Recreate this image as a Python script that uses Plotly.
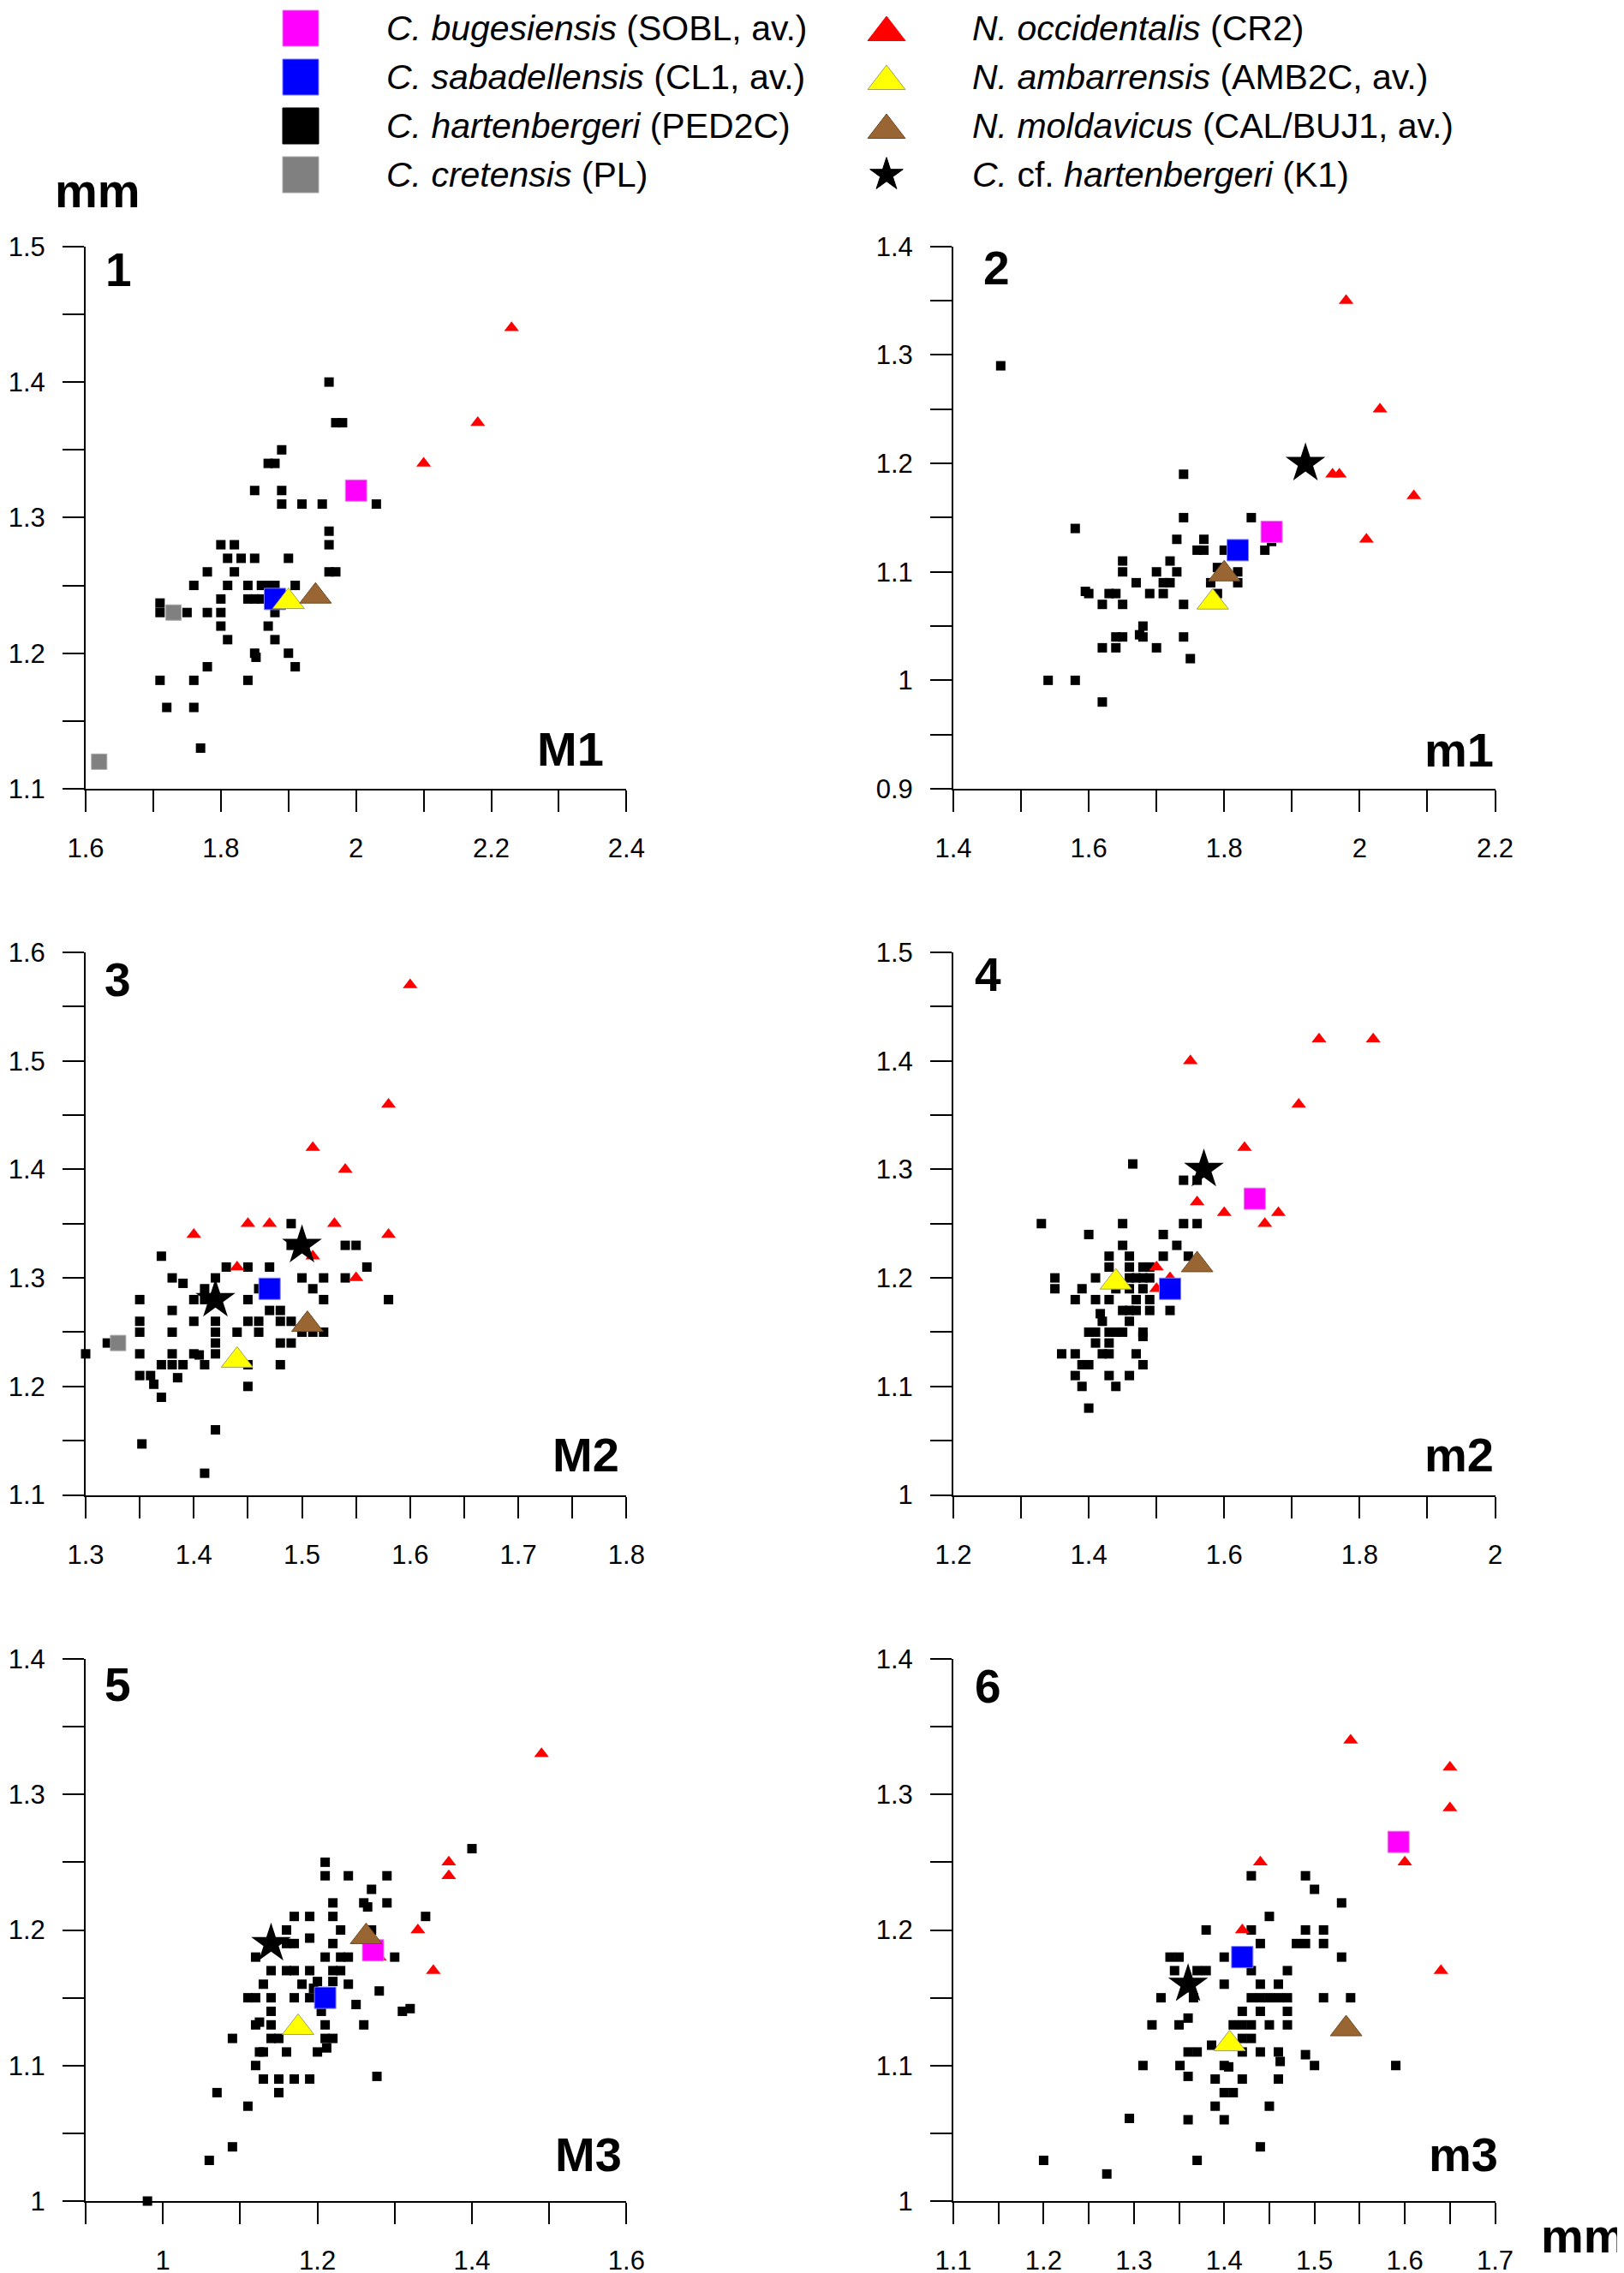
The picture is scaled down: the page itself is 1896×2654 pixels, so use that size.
import numpy as np
import plotly.graph_objects as go

# panels: tooth position and panel number
PANEL_NAMES = ["M1", "m1", "M2", "m2", "M3", "m3"]
PANEL_NUMBERS = ["1", "2", "3", "4", "5", "6"]

X_RANGES = [[1.6, 2.4], [1.4, 2.2], [1.3, 1.8], [1.2, 2.0], [0.9, 1.6], [1.1, 1.7]]
Y_RANGES = [[1.1, 1.5], [0.9, 1.4], [1.1, 1.6], [1.0, 1.5], [1.0, 1.4], [1.0, 1.4]]
X_TICK_STEP = [0.1, 0.1, 0.05, 0.1, 0.1, 0.05]
X_LABEL_STEP = [0.2, 0.2, 0.1, 0.2, 0.2, 0.1]

# C. hartenbergeri (PED2C), single teeth (length, width) in mm
ped2c_M1 = [(1.96, 1.40), (1.97, 1.37), (1.98, 1.37), (1.89, 1.35), (1.87, 1.34), (1.88, 1.34),
            (1.85, 1.32), (1.89, 1.32), (1.89, 1.31), (1.92, 1.31), (1.95, 1.31), (2.03, 1.31),
            (1.96, 1.29), (1.96, 1.28), (1.96, 1.26), (1.97, 1.26), (1.80, 1.28), (1.82, 1.28),
            (1.81, 1.27), (1.83, 1.27), (1.85, 1.27), (1.90, 1.27), (1.78, 1.26), (1.82, 1.26),
            (1.76, 1.25), (1.81, 1.25), (1.84, 1.25), (1.86, 1.25), (1.87, 1.25), (1.88, 1.25),
            (1.91, 1.25), (1.80, 1.24), (1.84, 1.24), (1.85, 1.24), (1.86, 1.24), (1.71, 1.237),
            (1.71, 1.23), (1.75, 1.23), (1.78, 1.23), (1.80, 1.23), (1.88, 1.23), (1.80, 1.22),
            (1.87, 1.22), (1.81, 1.21), (1.88, 1.21), (1.85, 1.20), (1.852, 1.197), (1.90, 1.20),
            (1.91, 1.19), (1.78, 1.19), (1.71, 1.18), (1.76, 1.18), (1.84, 1.18), (1.72, 1.16),
            (1.76, 1.16), (1.77, 1.13)]
ped2c_m1 = [(1.47, 1.29), (1.58, 1.14), (1.74, 1.19), (1.74, 1.15), (1.84, 1.15), (1.73, 1.13),
            (1.77, 1.13), (1.76, 1.12), (1.77, 1.12), (1.80, 1.12), (1.86, 1.12), (1.87, 1.128),
            (1.65, 1.11), (1.72, 1.11), (1.65, 1.10), (1.70, 1.10), (1.73, 1.10), (1.79, 1.104),
            (1.82, 1.10), (1.67, 1.09), (1.71, 1.09), (1.72, 1.09), (1.78, 1.09), (1.82, 1.09),
            (1.595, 1.082), (1.60, 1.08), (1.63, 1.08), (1.64, 1.08), (1.69, 1.08), (1.71, 1.08),
            (1.79, 1.08), (1.62, 1.07), (1.65, 1.07), (1.74, 1.07), (1.68, 1.05), (1.68, 1.04),
            (1.675, 1.042), (1.64, 1.04), (1.65, 1.04), (1.74, 1.04), (1.62, 1.03), (1.64, 1.03),
            (1.70, 1.03), (1.75, 1.02), (1.54, 1.00), (1.58, 1.00), (1.62, 0.98)]
ped2c_M2 = [(1.49, 1.35), (1.54, 1.33), (1.55, 1.33), (1.49, 1.33), (1.37, 1.32), (1.43, 1.31),
            (1.45, 1.31), (1.47, 1.31), (1.56, 1.31), (1.38, 1.30), (1.42, 1.30), (1.50, 1.30),
            (1.52, 1.30), (1.54, 1.30), (1.39, 1.295), (1.41, 1.29), (1.46, 1.29), (1.51, 1.29),
            (1.35, 1.28), (1.40, 1.28), (1.41, 1.28), (1.45, 1.28), (1.52, 1.28), (1.58, 1.28),
            (1.38, 1.27), (1.47, 1.27), (1.48, 1.27), (1.35, 1.26), (1.40, 1.26), (1.42, 1.26),
            (1.45, 1.26), (1.46, 1.26), (1.48, 1.26), (1.49, 1.26), (1.35, 1.25), (1.38, 1.25),
            (1.42, 1.25), (1.44, 1.25), (1.46, 1.25), (1.50, 1.25), (1.51, 1.25), (1.52, 1.25),
            (1.32, 1.24), (1.42, 1.24), (1.48, 1.24), (1.49, 1.24), (1.30, 1.23), (1.35, 1.23),
            (1.38, 1.23), (1.40, 1.23), (1.405, 1.229), (1.42, 1.23), (1.37, 1.22), (1.38, 1.22),
            (1.39, 1.22), (1.41, 1.22), (1.45, 1.22), (1.48, 1.22), (1.35, 1.21), (1.36, 1.21),
            (1.385, 1.208), (1.363, 1.202), (1.45, 1.20), (1.37, 1.19), (1.42, 1.16),
            (1.352, 1.147), (1.41, 1.12)]
ped2c_m2 = [(1.465, 1.305), (1.54, 1.29), (1.56, 1.29), (1.33, 1.25), (1.45, 1.25), (1.54, 1.25),
            (1.56, 1.25), (1.40, 1.24), (1.51, 1.24), (1.45, 1.23), (1.53, 1.23), (1.43, 1.22),
            (1.46, 1.22), (1.51, 1.22), (1.547, 1.22), (1.43, 1.21), (1.46, 1.21), (1.48, 1.21),
            (1.49, 1.21), (1.35, 1.20), (1.41, 1.20), (1.46, 1.20), (1.47, 1.20), (1.48, 1.20),
            (1.49, 1.20), (1.35, 1.19), (1.39, 1.19), (1.44, 1.19), (1.46, 1.19), (1.48, 1.19),
            (1.38, 1.18), (1.41, 1.18), (1.43, 1.18), (1.47, 1.18), (1.49, 1.18), (1.45, 1.17),
            (1.46, 1.17), (1.47, 1.17), (1.49, 1.17), (1.52, 1.17), (1.417, 1.167), (1.42, 1.16),
            (1.46, 1.16), (1.40, 1.15), (1.41, 1.15), (1.43, 1.15), (1.44, 1.15), (1.45, 1.15),
            (1.48, 1.15), (1.48, 1.146), (1.41, 1.14), (1.43, 1.14), (1.36, 1.13), (1.38, 1.13),
            (1.42, 1.13), (1.43, 1.13), (1.47, 1.13), (1.39, 1.12), (1.40, 1.12), (1.48, 1.12),
            (1.38, 1.11), (1.43, 1.11), (1.46, 1.11), (1.39, 1.10), (1.44, 1.10), (1.40, 1.08)]
ped2c_M3 = [(1.40, 1.26), (1.21, 1.25), (1.21, 1.24), (1.24, 1.24), (1.29, 1.24), (1.27, 1.23),
            (1.22, 1.22), (1.26, 1.22), (1.29, 1.22), (1.265, 1.217), (1.34, 1.21), (1.17, 1.21),
            (1.19, 1.21), (1.22, 1.21), (1.16, 1.20), (1.23, 1.20), (1.27, 1.20), (1.16, 1.19),
            (1.17, 1.19), (1.22, 1.19), (1.19, 1.194), (1.12, 1.18), (1.21, 1.18), (1.23, 1.18),
            (1.24, 1.18), (1.30, 1.18), (1.14, 1.17), (1.16, 1.17), (1.17, 1.17), (1.19, 1.17),
            (1.22, 1.17), (1.23, 1.17), (1.13, 1.16), (1.18, 1.16), (1.20, 1.162), (1.22, 1.162),
            (1.24, 1.16), (1.195, 1.157), (1.28, 1.155), (1.11, 1.15), (1.12, 1.15), (1.14, 1.15),
            (1.17, 1.15), (1.19, 1.15), (1.25, 1.145), (1.14, 1.14), (1.205, 1.14), (1.31, 1.14),
            (1.32, 1.142), (1.12, 1.13), (1.125, 1.132), (1.14, 1.13), (1.21, 1.13), (1.26, 1.13),
            (1.09, 1.12), (1.14, 1.12), (1.15, 1.12), (1.21, 1.12), (1.22, 1.12), (1.212, 1.113),
            (1.125, 1.11), (1.13, 1.11), (1.16, 1.11), (1.20, 1.11), (1.12, 1.10), (1.13, 1.09),
            (1.15, 1.09), (1.17, 1.09), (1.19, 1.09), (1.277, 1.092), (1.07, 1.08), (1.15, 1.08),
            (1.11, 1.07), (1.09, 1.04), (1.06, 1.03), (0.98, 1.00)]
ped2c_m3 = [(1.43, 1.24), (1.49, 1.24), (1.50, 1.23), (1.53, 1.22), (1.45, 1.21), (1.38, 1.20),
            (1.43, 1.20), (1.49, 1.20), (1.51, 1.20), (1.44, 1.19), (1.48, 1.19), (1.49, 1.19),
            (1.51, 1.19), (1.34, 1.18), (1.35, 1.18), (1.40, 1.18), (1.53, 1.18), (1.345, 1.17),
            (1.37, 1.17), (1.38, 1.17), (1.43, 1.17), (1.47, 1.17), (1.40, 1.16), (1.44, 1.16),
            (1.46, 1.16), (1.33, 1.15), (1.366, 1.15), (1.43, 1.15), (1.44, 1.15), (1.45, 1.15),
            (1.46, 1.15), (1.47, 1.15), (1.51, 1.15), (1.54, 1.15), (1.42, 1.14), (1.44, 1.14),
            (1.47, 1.14), (1.36, 1.135), (1.32, 1.13), (1.35, 1.13), (1.41, 1.13), (1.42, 1.13),
            (1.43, 1.13), (1.45, 1.13), (1.47, 1.13), (1.42, 1.12), (1.43, 1.12), (1.386, 1.115),
            (1.36, 1.11), (1.37, 1.11), (1.42, 1.11), (1.44, 1.11), (1.46, 1.11), (1.49, 1.108),
            (1.462, 1.103), (1.351, 1.10), (1.31, 1.10), (1.40, 1.10), (1.405, 1.099), (1.50, 1.10),
            (1.59, 1.10), (1.36, 1.092), (1.39, 1.09), (1.42, 1.09), (1.46, 1.09), (1.40, 1.08),
            (1.41, 1.08), (1.39, 1.07), (1.45, 1.07), (1.295, 1.061), (1.36, 1.06), (1.40, 1.06),
            (1.44, 1.04), (1.20, 1.03), (1.37, 1.03), (1.27, 1.02)]

# N. occidentalis (CR2)
cr2_M1 = [(2.23, 1.44), (2.18, 1.37), (2.10, 1.34)]
cr2_m1 = [(1.98, 1.35), (2.03, 1.25), (1.96, 1.19), (1.97, 1.19), (2.08, 1.17), (2.01, 1.13)]
cr2_M2 = [(1.60, 1.57), (1.58, 1.46), (1.51, 1.42), (1.54, 1.40), (1.45, 1.35), (1.47, 1.35),
          (1.53, 1.35), (1.40, 1.34), (1.58, 1.34), (1.44, 1.31), (1.51, 1.32), (1.55, 1.30)]
cr2_m2 = [(1.55, 1.40), (1.74, 1.42), (1.82, 1.42), (1.71, 1.36), (1.63, 1.32), (1.56, 1.27),
          (1.60, 1.26), (1.68, 1.26), (1.66, 1.25), (1.50, 1.21), (1.52, 1.20), (1.50, 1.19)]
cr2_M3 = [(1.49, 1.33), (1.37, 1.25), (1.37, 1.24), (1.33, 1.20), (1.28, 1.18), (1.35, 1.17)]
cr2_m3 = [(1.54, 1.34), (1.65, 1.32), (1.65, 1.29), (1.44, 1.25), (1.60, 1.25), (1.42, 1.20),
          (1.64, 1.17)]

# C. cretensis (PL)
pl_M1 = [(1.73, 1.23), (1.62, 1.12)]
pl_M2 = [(1.33, 1.24)]

# C. cf. hartenbergeri (K1)
k1_m1 = [(1.92, 1.20)]
k1_M2 = [(1.42, 1.28), (1.50, 1.33)]
k1_m2 = [(1.57, 1.30)]
k1_M3 = [(1.14, 1.19)]
k1_m3 = [(1.36, 1.16)]

# averages, one value per panel (None = not shown)
SOBL_X = [2.00, 1.87, None, 1.645, 1.272, 1.593]
SOBL_Y = [1.32, 1.137, None, 1.273, 1.185, 1.265]
CL1_X = [1.88, 1.82, 1.47, 1.52, 1.21, 1.42]
CL1_Y = [1.24, 1.12, 1.29, 1.19, 1.15, 1.18]
AMB2C_X = [1.90, 1.783, 1.44, 1.44, 1.175, 1.406]
AMB2C_Y = [1.238, 1.072, 1.224, 1.196, 1.128, 1.116]
CALBUJ1_X = [1.94, 1.80, 1.505, 1.56, 1.263, 1.535]
CALBUJ1_Y = [1.242, 1.098, 1.257, 1.212, 1.195, 1.127]

PED2C = [ped2c_M1, ped2c_m1, ped2c_M2, ped2c_m2, ped2c_M3, ped2c_m3]
CR2 = [cr2_M1, cr2_m1, cr2_M2, cr2_m2, cr2_M3, cr2_m3]
PL = [pl_M1, [], pl_M2, [], [], []]
K1 = [[], k1_m1, k1_M2, k1_m2, k1_M3, k1_m3]

LEGEND_LABELS = [
    "<i>C. bugesiensis</i> (SOBL, av.)",
    "<i>C. sabadellensis</i> (CL1, av.)",
    "<i>C. hartenbergeri</i> (PED2C)",
    "<i>C. cretensis</i> (PL)",
    "<i>N. occidentalis</i> (CR2)",
    "<i>N. ambarrensis</i> (AMB2C, av.)",
    "<i>N. moldavicus</i> (CAL/BUJ1, av.)",
    "<i>C.</i> cf. <i>hartenbergeri</i> (K1)",
]

FONT = "Liberation Sans, Arial, sans-serif"
W, H = 1896, 2654
OFF = 8  # page body margin, the figure is drawn this far from the window corner

MAGENTA, BLUE, BLACK, GREY = "#FF00FF", "#0000FF", "#000000", "#808080"
RED, YELLOW, BROWN = "#FF0000", "#FFFF00", "#996633"

# styles: (colour, symbol, size, line colour, line width)
STY_SOBL = (MAGENTA, "square", 25, "#E08AE0", 1)
STY_CL1 = (BLUE, "square", 25, "#8080FF", 1)
STY_PED2C = (BLACK, "square", 11, BLACK, 0)
STY_PL = (GREY, "square", 18, "#A8A8A8", 1)
STY_CR2 = (RED, "triangle-up", 15, RED, 0)
STY_AMB2C = (YELLOW, "triangle-up", 32, "#A0A060", 1)
STY_CAL = (BROWN, "triangle-up", 32, "#6E4A22", 1)
STY_K1 = (BLACK, "star", 35, BLACK, 0)

# pixel layout of the panels (window pixels)
COL_PX = [(100.0, 731.4), (1113.0, 1745.5)]
ROW_PX = [(287.8, 921.0), (1112.0, 1745.5), (1937.0, 2570.0)]


def px_x(p):
    return (p - OFF) / W


def px_y(p):
    return 1 - (p - OFF) / H


def sfx(i):
    return "" if i == 0 else str(i + 1)


fig = go.Figure()


def add_pts(i, xs, ys, sty):
    color, symbol, size, lcol, lw = sty
    fig.add_trace(go.Scatter(
        x=xs, y=ys, mode="markers", cliponaxis=False, showlegend=False,
        xaxis="x" + sfx(i), yaxis="y" + sfx(i),
        marker=dict(color=color, symbol=symbol, size=size,
                    line=dict(color=lcol, width=lw))))


for i in range(6):
    if PED2C[i]:
        x, y = zip(*PED2C[i])
        add_pts(i, x, y, STY_PED2C)
    if PL[i]:
        x, y = zip(*PL[i])
        add_pts(i, x, y, STY_PL)
    if CR2[i]:
        x, y = zip(*CR2[i])
        add_pts(i, x, y, STY_CR2)
    if SOBL_X[i] is not None:
        add_pts(i, [SOBL_X[i]], [SOBL_Y[i]], STY_SOBL)
    add_pts(i, [CL1_X[i]], [CL1_Y[i]], STY_CL1)
    add_pts(i, [AMB2C_X[i]], [AMB2C_Y[i]], STY_AMB2C)
    add_pts(i, [CALBUJ1_X[i]], [CALBUJ1_Y[i]], STY_CAL)
    if K1[i]:
        x, y = zip(*K1[i])
        add_pts(i, x, y, STY_K1)


def ticks(lo, hi, step, label_step):
    vals = np.round(np.arange(lo, hi + step / 2, step), 4)
    text = []
    for v in vals:
        q = v / label_step
        text.append(f"{v:g}" if abs(q - round(q)) < 1e-6 else "")
    return [float(v) for v in vals], text


axis_common = dict(showline=True, linecolor="black", linewidth=2, ticks="outside",
                   ticklen=25, tickwidth=2, tickcolor="black", showgrid=False,
                   zeroline=False, tickfont=dict(family=FONT, size=31, color="black"),
                   tickmode="array", automargin=False)

layout = {}
annotations = []
NUM_DX = [38, 50, 37, 40, 37, 40]
NUM_DY = [27, 25, 32, 26, 30, 32]
NAME_X = [0.962, 1.0, 0.99, 1.0, 0.994, 1.008]
NAME_DY = [47, 46, 47, 47, 55, 55]

for i in range(6):
    c, r = i % 2, i // 2
    x0, x1 = COL_PX[c]
    y0, y1 = ROW_PX[r]
    xv, xt = ticks(X_RANGES[i][0], X_RANGES[i][1], X_TICK_STEP[i], X_LABEL_STEP[i])
    yv, yt = ticks(Y_RANGES[i][0], Y_RANGES[i][1], 0.05, 0.1)
    layout["xaxis" + sfx(i)] = dict(axis_common, range=X_RANGES[i],
                                    domain=[px_x(x0), px_x(x1)],
                                    anchor="y" + sfx(i), tickvals=xv, ticktext=xt,
                                    ticklabelstandoff=16)
    layout["yaxis" + sfx(i)] = dict(axis_common, range=Y_RANGES[i],
                                    domain=[px_y(y1), px_y(y0)],
                                    anchor="x" + sfx(i), tickvals=yv, ticktext=yt,
                                    ticklabelstandoff=14)
    pw, ph = x1 - x0, y1 - y0
    annotations.append(dict(
        text=f"<b>{PANEL_NUMBERS[i]}</b>", xref="x" + sfx(i) + " domain",
        yref="y" + sfx(i) + " domain",
        x=NUM_DX[i] / pw, y=1 - NUM_DY[i] / ph, xanchor="center", yanchor="middle",
        showarrow=False, font=dict(family=FONT, size=55, color="black")))
    annotations.append(dict(
        text=f"<b>{PANEL_NAMES[i]}</b>", xref="x" + sfx(i) + " domain",
        yref="y" + sfx(i) + " domain",
        x=NAME_X[i], y=NAME_DY[i] / ph, xanchor="right", yanchor="middle",
        showarrow=False, font=dict(family=FONT, size=56, color="black")))

# unit labels
annotations.append(dict(text="<b>mm</b>", xref="paper", yref="paper", x=px_x(114),
                        y=px_y(223), xanchor="center", yanchor="middle", showarrow=False,
                        font=dict(family=FONT, size=56, color="black")))
annotations.append(dict(text="<b>mm</b>", xref="paper", yref="paper", x=px_x(1797),
                        y=px_y(2610), xanchor="left", yanchor="middle", showarrow=False,
                        font=dict(family=FONT, size=56, color="black")))

# legend drawn on a hidden axis at the top, two columns of four
LEG_STY = [STY_SOBL, STY_CL1, STY_PED2C, STY_PL, STY_CR2, STY_AMB2C, STY_CAL, STY_K1]
LEG_SIZE = {"square": 42, "triangle-up": 38, "star": 29}
LEG_MARK_X = [351, 1035]
LEG_TEXT_X = [449, 1133]
LEG_ROW0, LEG_ROW_STEP = 33, 57
for k, lab in enumerate(LEGEND_LABELS):
    col, row = k // 4, k % 4
    color, symbol, size, lcol, lw = LEG_STY[k]
    ry = LEG_ROW0 + LEG_ROW_STEP * row
    ly = ry + (5 if symbol == "triangle-up" else 0)
    fig.add_trace(go.Scatter(
        x=[LEG_MARK_X[col]], y=[ly], mode="markers", showlegend=False, cliponaxis=False,
        xaxis="x7", yaxis="y7",
        marker=dict(color=color, symbol=symbol, size=LEG_SIZE[symbol],
                    line=dict(color=lcol if lw else color, width=1))))
    annotations.append(dict(text=lab, xref="x7", yref="y7", x=LEG_TEXT_X[col],
                            y=ry, xanchor="left", yanchor="middle",
                            showarrow=False,
                            font=dict(family=FONT, size=41, color="black")))

layout["xaxis7"] = dict(range=[OFF, W + OFF], domain=[0, 1], visible=False, anchor="y7")
layout["yaxis7"] = dict(range=[240 + OFF, OFF], domain=[1 - 240 / H, 1], visible=False,
                        anchor="x7")

fig.update_layout(**layout)
fig.update_layout(width=W, height=H,
                  margin=dict(l=0, r=0, t=0, b=0, pad=0, autoexpand=False),
                  paper_bgcolor="white", plot_bgcolor="white",
                  annotations=annotations, showlegend=False)

fig.write_html("out.html")
